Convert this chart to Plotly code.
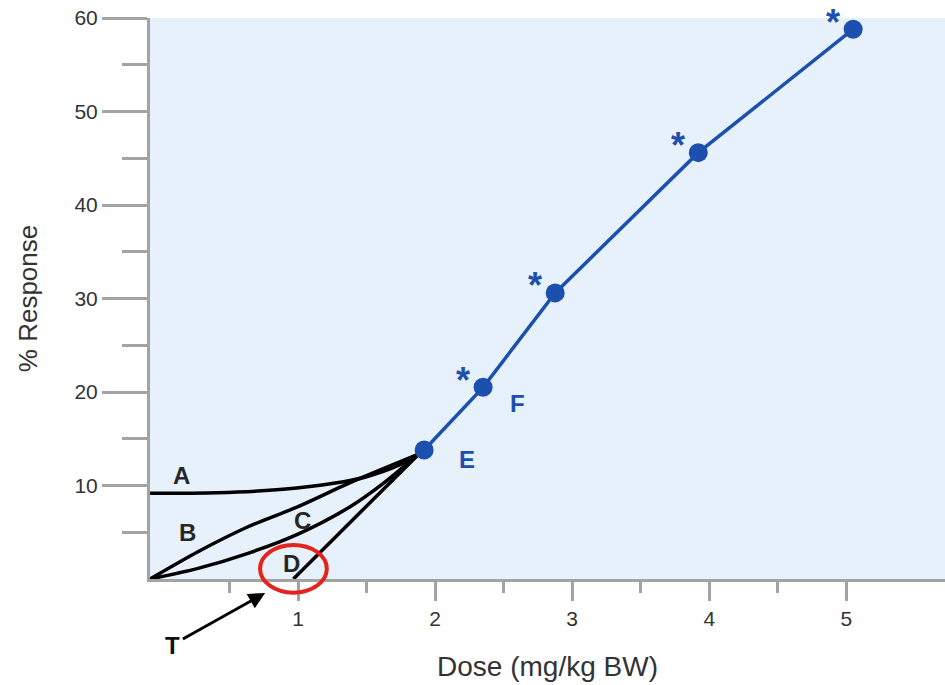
import plotly.graph_objects as go

# ---- data ----
dose_main = [1.92, 2.35, 2.876, 3.92, 5.05]
resp_main = [13.8, 20.5, 30.6, 45.6, 58.8]

curve_A_x = [-0.08, 0.41, 0.89, 1.26, 1.50, 1.74, 1.88]
curve_A_y = [9.17, 9.23, 9.59, 10.23, 10.94, 12.19, 13.35]

curve_B_x = [-0.08, 0.27, 0.635, 1.0, 1.38, 1.88]
curve_B_y = [0.0, 2.92, 5.59, 7.73, 10.3, 13.35]

curve_C_x = [-0.08, 0.27, 0.635, 1.0, 1.38, 1.62, 1.88]
curve_C_y = [0.0, 1.14, 2.75, 4.8, 7.73, 10.2, 13.35]

curve_D_x = [0.966, 1.88]
curve_D_y = [0.0, 13.35]

label_text = ["A", "B", "C", "D"]
label_x = [0.153, 0.19, 1.03, 0.95]
label_y = [11.1, 5.0, 6.3, 1.7]

point_names = ["E", "F"]
point_name_x = [2.23, 2.60]
point_name_y = [12.8, 18.8]

star_x = dose_main[1:]
star_y = resp_main[1:]

threshold_x, threshold_y = 0.76, -1.5

x_ticks = [1, 2, 3, 4, 5]
x_minor = [0.5, 1.5, 2.5, 3.5, 4.5]
y_ticks = [10, 20, 30, 40, 50, 60]
y_minor = [5, 15, 25, 35, 45, 55]
y_range = [0, 60]

BLUE = "#1D4FAF"
GRAY = "#A3A3A3"
FONT = "Liberation Sans, Arial, sans-serif"

fig = go.Figure()

for cx, cy in [(curve_A_x, curve_A_y), (curve_B_x, curve_B_y),
               (curve_C_x, curve_C_y), (curve_D_x, curve_D_y)]:
    fig.add_trace(go.Scatter(x=cx, y=cy, mode="lines",
                             line=dict(color="black", width=3.5, shape="spline", smoothing=0.8),
                             hoverinfo="skip", showlegend=False))

fig.add_trace(go.Scatter(x=dose_main, y=resp_main, mode="lines+markers",
                         line=dict(color=BLUE, width=3.5),
                         marker=dict(color=BLUE, size=19),
                         showlegend=False, cliponaxis=False))

annotations = []
for t, x, y in zip(label_text, label_x, label_y):
    annotations.append(dict(x=x, y=y, text=t, showarrow=False,
                            font=dict(family=FONT, size=24, color="#262626", weight="bold")))
for t, x, y in zip(point_names, point_name_x, point_name_y):
    annotations.append(dict(x=x, y=y, text=t, showarrow=False,
                            font=dict(family=FONT, size=24, color=BLUE, weight="bold")))
for x, y in zip(star_x, star_y):
    annotations.append(dict(x=x, y=y, text="*", showarrow=False, xshift=-20, yshift=7,
                            font=dict(family=FONT, size=36, color=BLUE, weight="bold")))

# threshold arrow "T" (y given in axis-domain fraction so it can sit below the axis)
annotations.append(dict(x=threshold_x, y=(threshold_y - y_range[0]) / (y_range[1] - y_range[0]),
                        xref="x", yref="y domain", text="T", showarrow=True,
                        ax=-93, ay=52, arrowhead=2, arrowsize=1.1, arrowwidth=3,
                        arrowcolor="black", standoff=0, startstandoff=2,
                        font=dict(family=FONT, size=24, color="#111", weight="bold")))

# red circle around D
cy0, cy1 = -1.47, 3.64
fig.add_shape(type="circle", xref="x", yref="y domain",
              x0=0.723, x1=1.21,
              y0=(cy0 - y_range[0]) / (y_range[1] - y_range[0]),
              y1=(cy1 - y_range[0]) / (y_range[1] - y_range[0]),
              line=dict(color="#E3231D", width=4), layer="above")

fig.update_layout(
    width=945, height=685,
    margin=dict(l=150, r=0, t=18, b=106),
    paper_bgcolor="white", plot_bgcolor="#E7F1FC",
    annotations=annotations,
    font=dict(family=FONT, color="#333333"),
    showlegend=False,
)
fig.update_xaxes(range=[-0.08, 5.72], showgrid=False, zeroline=False,
                 showline=True, linecolor=GRAY, linewidth=3,
                 tickmode="array", tickvals=x_ticks, ticks="outside", ticklen=19,
                 tickwidth=3, tickcolor=GRAY, tickfont=dict(size=21, color="#333"),
                 minor=dict(tickmode="array", tickvals=x_minor, ticks="outside", ticklen=11,
                            tickwidth=3, tickcolor=GRAY),
                 title=dict(text="Dose (mg/kg BW)", font=dict(size=28, color="#333"), standoff=28))
fig.update_yaxes(range=y_range, showgrid=False, zeroline=False,
                 showline=True, linecolor=GRAY, linewidth=3,
                 tickmode="array", tickvals=y_ticks, ticks="outside", ticklen=45,
                 tickwidth=3, tickcolor=GRAY, tickfont=dict(size=21, color="#333"),
                 minor=dict(tickmode="array", tickvals=y_minor, ticks="outside", ticklen=25,
                            tickwidth=3, tickcolor=GRAY),
                 title=dict(text="% Response", font=dict(size=26, color="#333"), standoff=30))

fig.write_html("out.html")
